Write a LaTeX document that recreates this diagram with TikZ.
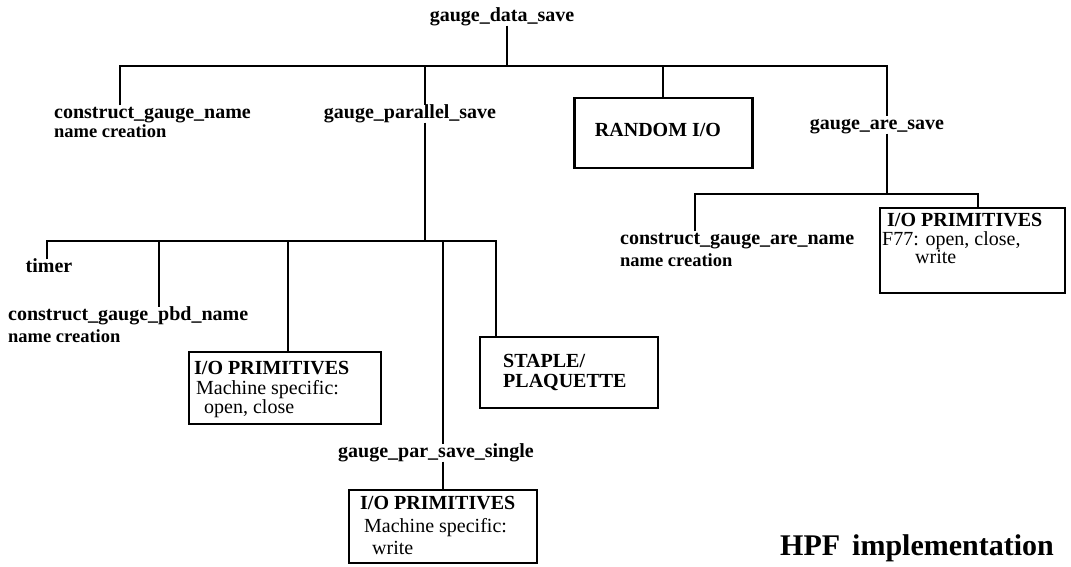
\documentclass[tikz,border=0pt]{standalone}
\usepackage{fontspec}
\setmainfont{Liberation Serif}
\begin{document}
\begin{tikzpicture}[x=1pt,y=-1pt,
  wire/.style={line width=2pt},
  box/.style={draw, line width=2.4pt, rectangle, inner sep=0pt},
  lbl/.style={font=\fontsize{20}{20}\selectfont\bfseries, inner sep=0pt, text height=13pt, text depth=4pt},
  sub/.style={font=\fontsize{18.5}{18.5}\selectfont\bfseries, inner sep=0pt, anchor=west, text height=13pt, text depth=4pt},
  txt/.style={font=\fontsize{20}{20}\selectfont, inner sep=0pt, anchor=west, text height=13pt, text depth=4pt},
  head/.style={font=\fontsize{20}{20}\selectfont\bfseries, inner sep=0pt, anchor=west, text height=13pt, text depth=4pt}]
\useasboundingbox (0,0) rectangle (1071,566);

% ---- top level ----
\node[lbl] (gds) at (502,17) {gauge\_data\_save};

\coordinate (t1) at (120,66);
\coordinate (t2) at (425,66);
\coordinate (t3) at (507,66);
\coordinate (t4) at (663,66);
\coordinate (t5) at (887,66);

\node[lbl, anchor=west] (cgn) at (54,114) {construct\_gauge\_name};
\node[sub] (cgnb) at (54,133) {name creation};

\node[lbl] (gps) at (410,114) {gauge\_parallel\_save};

\node[box, minimum width=178pt, minimum height=70pt] (rio) at (663.5,133) {};
\node[lbl] (riot) at (658,132) {RANDOM I/O};

\node[lbl] (gas) at (877,125) {gauge\_are\_save};

\draw[wire] (gds.south -| t3) -- (t3);
\draw[wire] (cgn.north -| t1) -- (t1) -- (t5) -- (gas.north -| t5);
\draw[wire] (t2) -- (gps.north -| t2);
\draw[wire] (t4) -- (rio.north -| t4);

% ---- gauge_are_save branch ----
\coordinate (a0) at (887,194);
\coordinate (a1) at (695,194);
\coordinate (a2) at (978,194);

\node[lbl, anchor=west] (cgan) at (620,240) {construct\_gauge\_are\_name};
\node[sub] (cganb) at (620,262) {name creation};

\node[box, minimum width=185pt, minimum height=85pt] (iop3) at (972.5,250.5) {};
\node[head] (iop3a) at (887,222) {I/O PRIMITIVES};
\node[txt] (iop3b) at (882,241) {F77: open, close,};
\node[txt] (iop3c) at (915,259) {write};

\draw[wire] (gas.south -| a0) -- (a0);
\draw[wire] (cgan.north -| a1) -- (a1) -- (a2) -- (iop3.north -| a2);

% ---- gauge_parallel_save branch ----
\coordinate (p0) at (425,241);
\coordinate (p1) at (47,241);
\coordinate (p2) at (159,241);
\coordinate (p3) at (288,241);
\coordinate (p4) at (443,241);
\coordinate (p5) at (496,241);

\node[lbl] (tmr) at (49,268) {timer};

\node[lbl, anchor=west] (cgpn) at (8,316) {construct\_gauge\_pbd\_name};
\node[sub] (cgpnb) at (8,338) {name creation};

\node[box, minimum width=192pt, minimum height=72pt] (iop1) at (285,388) {};
\node[head] (iop1a) at (194,370) {I/O PRIMITIVES};
\node[txt] (iop1b) at (196,390) {Machine specific:};
\node[txt] (iop1c) at (204,409) {open, close};

\node[box, minimum width=178pt, minimum height=71pt] (stp) at (569,372.5) {};
\node[head] (stpa) at (503,363) {STAPLE/};
\node[head] (stpb) at (503,383) {PLAQUETTE};

\node[lbl] (gpss) at (436,453) {gauge\_par\_save\_single};

\node[box, minimum width=188pt, minimum height=73pt] (iop2) at (443,526.5) {};
\node[head] (iop2a) at (360,505) {I/O PRIMITIVES};
\node[txt] (iop2b) at (364,528) {Machine specific:};
\node[txt] (iop2c) at (372,550) {write};

\draw[wire] (gps.south -| p0) -- (p0);
\draw[wire] (tmr.north -| p1) -- (p1) -- (p5) -- (stp.north -| p5);
\draw[wire] (p2) -- (cgpn.north -| p2);
\draw[wire] (p3) -- (iop1.north -| p3);
\draw[wire] (p4) -- (gpss.north -| p4);
\draw[wire] (gpss.south -| p4) -- (iop2.north -| p4);

% ---- caption ----
\node[font=\fontsize{30}{30}\selectfont\bfseries, inner sep=0pt, anchor=west] (hpf) at (780,548) {HPF\hspace{0.15em} implementation};
\end{tikzpicture}
\end{document}
